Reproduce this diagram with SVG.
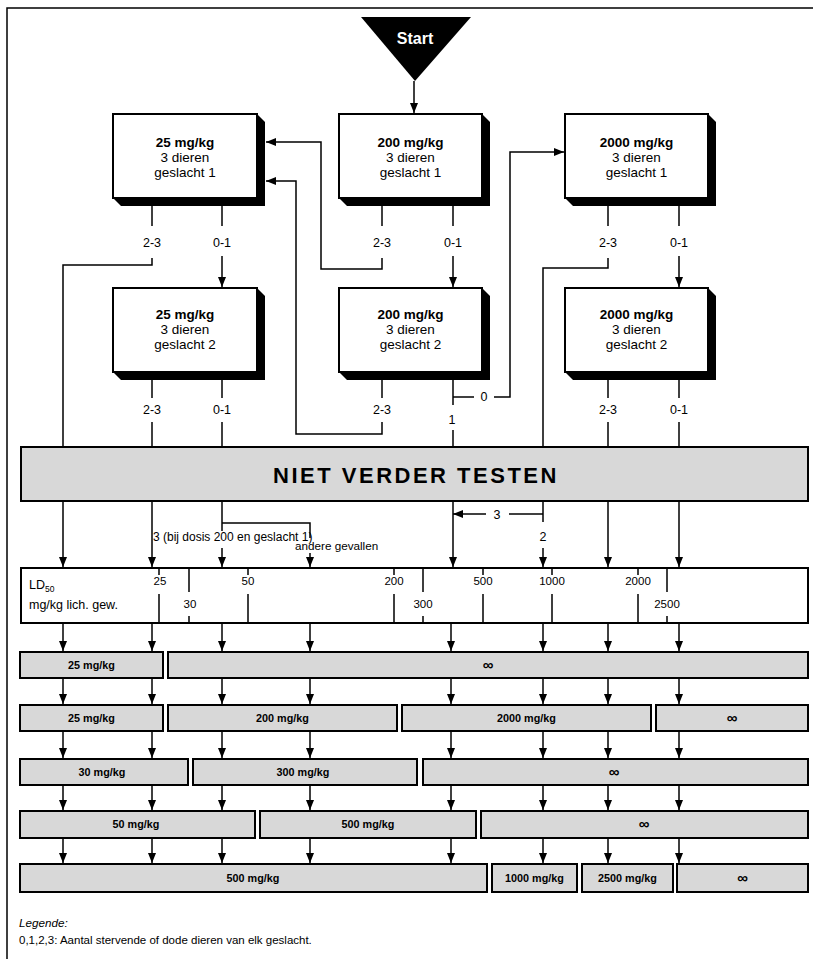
<svg xmlns="http://www.w3.org/2000/svg" width="813" height="959" viewBox="0 0 813 959">
<style>
text{font-family:"Liberation Sans",Arial,sans-serif;fill:#000}
.box{fill:#fff;stroke:#000;stroke-width:2}
.sh{fill:#000}
.bar{fill:#d8d8d8;stroke:#000;stroke-width:2}
.ln{stroke:#000;stroke-width:1.5;fill:none}
.ar{stroke:#000;stroke-width:1.5;fill:none;marker-end:url(#ah)}
.t1{font-size:13.5px;font-weight:bold;text-anchor:middle}
.t2{font-size:13.5px;text-anchor:middle}
.lb{font-size:12.5px;text-anchor:middle}
.tk{font-size:11.5px;text-anchor:middle}
.rb{font-size:10.8px;font-weight:bold;text-anchor:middle}
.inf{font-size:15px;font-weight:bold;text-anchor:middle}
</style>
<defs>
<marker id="ah" viewBox="0 0 10 8" refX="10" refY="4" markerWidth="10" markerHeight="8" orient="auto" markerUnits="userSpaceOnUse">
<path d="M0,0 L10,4 L0,8 z" fill="#000"/>
</marker>
</defs>

<path class="ln" d="M7,959 V8 H813"/>

<g id="connectors">
<path class="ar" d="M414,81 V113"/>
<path class="ln" d="M152,206 V226"/>
<text class="lb" x="152" y="247">2-3</text>
<path class="ar" d="M152,258 V265 H63 V567"/>
<path class="ln" d="M222,206 V226"/>
<text class="lb" x="222" y="247">0-1</text>
<path class="ar" d="M222,256 V287"/>
<path class="ln" d="M382,206 V226"/>
<text class="lb" x="382" y="247">2-3</text>
<path class="ar" d="M382,258 V269 H321 V142 H266"/>
<path class="ln" d="M453,206 V226"/>
<text class="lb" x="453" y="247">0-1</text>
<path class="ar" d="M453,256 V287"/>
<path class="ln" d="M608,206 V226"/>
<text class="lb" x="608" y="247">2-3</text>
<path class="ln" d="M608,258 V268 H543 V522"/>
<path class="ln" d="M679,206 V226"/>
<text class="lb" x="679" y="247">0-1</text>
<path class="ar" d="M679,256 V287"/>
<path class="ln" d="M152,380 V398"/>
<text class="lb" x="152" y="414">2-3</text>
<path class="ar" d="M152,422 V567"/>
<path class="ln" d="M222,380 V398"/>
<text class="lb" x="222" y="414">0-1</text>
<path class="ln" d="M222,422 V531"/>
<path class="ln" d="M222,523 H310 V538"/>
<path class="ar" d="M222,548 V567"/>
<path class="ar" d="M310,553 V567"/>
<text x="153" y="541" font-size="12">3 (bij dosis 200 en geslacht 1)</text>
<text x="295" y="550" font-size="11.7">andere gevallen</text>
<path class="ln" d="M382,380 V398"/>
<text class="lb" x="382" y="414">2-3</text>
<path class="ar" d="M382,422 V434 H296 V181 H266"/>
<path class="ln" d="M453,380 V405"/>
<path class="ln" d="M453,397 H474"/>
<text class="lb" x="484" y="401">0</text>
<path class="ar" d="M494,397 H510 V152 H564"/>
<text class="lb" x="452" y="424">1</text>
<path class="ar" d="M453,430 V567"/>
<path class="ln" d="M608,380 V398"/>
<text class="lb" x="608" y="414">2-3</text>
<path class="ar" d="M608,422 V567"/>
<path class="ln" d="M679,380 V398"/>
<text class="lb" x="679" y="414">0-1</text>
<path class="ar" d="M679,422 V567"/>
<path class="ln" d="M543,514 H509"/>
<text class="lb" x="497" y="519">3</text>
<path class="ar" d="M486,514 H453"/>
<text class="lb" x="543" y="541">2</text>
<path class="ar" d="M543,548 V567"/>
<g id="col-arrows">
<path class="ar" d="M63,624 V651"/><path class="ar" d="M152,624 V651"/><path class="ar" d="M222,624 V651"/><path class="ar" d="M310,624 V651"/><path class="ar" d="M451,624 V651"/><path class="ar" d="M543,624 V651"/><path class="ar" d="M608,624 V651"/><path class="ar" d="M679,624 V651"/>
<path class="ar" d="M63,679 V704"/><path class="ar" d="M152,679 V704"/><path class="ar" d="M222,679 V704"/><path class="ar" d="M310,679 V704"/><path class="ar" d="M451,679 V704"/><path class="ar" d="M543,679 V704"/><path class="ar" d="M608,679 V704"/><path class="ar" d="M679,679 V704"/>
<path class="ar" d="M63,732 V758"/><path class="ar" d="M152,732 V758"/><path class="ar" d="M222,732 V758"/><path class="ar" d="M310,732 V758"/><path class="ar" d="M451,732 V758"/><path class="ar" d="M543,732 V758"/><path class="ar" d="M608,732 V758"/><path class="ar" d="M679,732 V758"/>
<path class="ar" d="M63,786 V810"/><path class="ar" d="M152,786 V810"/><path class="ar" d="M222,786 V810"/><path class="ar" d="M310,786 V810"/><path class="ar" d="M451,786 V810"/><path class="ar" d="M543,786 V810"/><path class="ar" d="M608,786 V810"/><path class="ar" d="M679,786 V810"/>
<path class="ar" d="M63,839 V863"/><path class="ar" d="M152,839 V863"/><path class="ar" d="M222,839 V863"/><path class="ar" d="M310,839 V863"/><path class="ar" d="M451,839 V863"/><path class="ar" d="M543,839 V863"/><path class="ar" d="M608,839 V863"/><path class="ar" d="M679,839 V863"/>
</g>
</g>

<g id="start">
<polygon points="361,17 471,17 415,81" fill="#000"/>
<text x="415" y="44" font-size="16" font-weight="bold" text-anchor="middle" style="fill:#fff">Start</text>
</g>

<g id="box-25-1">
<polygon class="sh" points="257,114 265,122 265,206 121,206 113,198"/>
<rect class="box" x="113" y="114" width="144" height="84"/>
<text class="t1" x="185" y="147">25 mg/kg</text>
<text class="t2" x="185" y="162">3 dieren</text>
<text class="t2" x="185" y="177">geslacht 1</text>
</g>
<g id="box-200-1">
<polygon class="sh" points="482,114 490,122 490,206 347,206 339,198"/>
<rect class="box" x="339" y="114" width="143" height="84"/>
<text class="t1" x="410.5" y="147">200 mg/kg</text>
<text class="t2" x="410.5" y="162">3 dieren</text>
<text class="t2" x="410.5" y="177">geslacht 1</text>
</g>
<g id="box-2000-1">
<polygon class="sh" points="708,114 716,122 716,206 573,206 565,198"/>
<rect class="box" x="565" y="114" width="143" height="84"/>
<text class="t1" x="636.5" y="147">2000 mg/kg</text>
<text class="t2" x="636.5" y="162">3 dieren</text>
<text class="t2" x="636.5" y="177">geslacht 1</text>
</g>
<g id="box-25-2">
<polygon class="sh" points="257,288 265,296 265,380 121,380 113,372"/>
<rect class="box" x="113" y="288" width="144" height="84"/>
<text class="t1" x="185" y="319">25 mg/kg</text>
<text class="t2" x="185" y="334">3 dieren</text>
<text class="t2" x="185" y="349">geslacht 2</text>
</g>
<g id="box-200-2">
<polygon class="sh" points="482,288 490,296 490,380 347,380 339,372"/>
<rect class="box" x="339" y="288" width="143" height="84"/>
<text class="t1" x="410.5" y="319">200 mg/kg</text>
<text class="t2" x="410.5" y="334">3 dieren</text>
<text class="t2" x="410.5" y="349">geslacht 2</text>
</g>
<g id="box-2000-2">
<polygon class="sh" points="708,288 716,296 716,380 573,380 565,372"/>
<rect class="box" x="565" y="288" width="143" height="84"/>
<text class="t1" x="636.5" y="319">2000 mg/kg</text>
<text class="t2" x="636.5" y="334">3 dieren</text>
<text class="t2" x="636.5" y="349">geslacht 2</text>
</g>

<g id="niet-verder-testen">
<rect class="bar" x="21" y="447" width="787" height="54"/>
<text x="416" y="483" font-size="22" font-weight="bold" letter-spacing="2.5" text-anchor="middle">NIET VERDER TESTEN</text>
</g>

<g id="ld50-scale">
<rect class="box" x="21" y="568" width="787" height="55"/>
<text x="29" y="589" font-size="12.5">LD<tspan font-size="8.5" dy="3">50</tspan></text>
<text x="29" y="609" font-size="12.5">mg/kg lich. gew.</text>
<path class="ln" d="M159,568 V575 M159,594 V623 M248,568 V575 M248,594 V623 M394,568 V575 M394,594 V623 M483,568 V575 M483,594 V623 M552,568 V575 M552,594 V623 M638,568 V575 M638,594 V623"/>
<path class="ln" d="M189,568 V592 M189,616 V623 M423,568 V592 M423,616 V623 M667,568 V592 M667,616 V623"/>
<text class="tk" x="160" y="585">25</text>
<text class="tk" x="248" y="585">50</text>
<text class="tk" x="394" y="585">200</text>
<text class="tk" x="483" y="585">500</text>
<text class="tk" x="552" y="585">1000</text>
<text class="tk" x="638" y="585">2000</text>
<text class="tk" x="190" y="608">30</text>
<text class="tk" x="423" y="608">300</text>
<text class="tk" x="667" y="608">2500</text>
</g>

<g id="row-a">
<rect class="bar" x="20" y="652" width="143" height="26"/>
<text class="rb" x="91.5" y="669">25 mg/kg</text>
<rect class="bar" x="168" y="652" width="640" height="26"/>
<text class="inf" x="488" y="670">∞</text>
</g>
<g id="row-b">
<rect class="bar" x="20" y="705" width="143" height="26"/>
<text class="rb" x="91.5" y="722">25 mg/kg</text>
<rect class="bar" x="168" y="705" width="229" height="26"/>
<text class="rb" x="282.5" y="722">200 mg/kg</text>
<rect class="bar" x="402" y="705" width="249" height="26"/>
<text class="rb" x="526.5" y="722">2000 mg/kg</text>
<rect class="bar" x="656" y="705" width="152" height="26"/>
<text class="inf" x="732" y="723">∞</text>
</g>
<g id="row-c">
<rect class="bar" x="20" y="759" width="168" height="26"/>
<text class="rb" x="102" y="776">30 mg/kg</text>
<rect class="bar" x="193" y="759" width="224" height="26"/>
<text class="rb" x="303" y="776">300 mg/kg</text>
<rect class="bar" x="423" y="759" width="385" height="26"/>
<text class="inf" x="614" y="777">∞</text>
</g>
<g id="row-d">
<rect class="bar" x="20" y="811" width="235" height="27"/>
<text class="rb" x="136" y="828">50 mg/kg</text>
<rect class="bar" x="260" y="811" width="216" height="27"/>
<text class="rb" x="368" y="828">500 mg/kg</text>
<rect class="bar" x="481" y="811" width="327" height="27"/>
<text class="inf" x="644" y="829">∞</text>
</g>
<g id="row-e">
<rect class="bar" x="20" y="864" width="467" height="28"/>
<text class="rb" x="253" y="882">500 mg/kg</text>
<rect class="bar" x="492" y="864" width="85" height="28"/>
<text class="rb" x="534.5" y="882">1000 mg/kg</text>
<rect class="bar" x="582" y="864" width="91" height="28"/>
<text class="rb" x="627.5" y="882">2500 mg/kg</text>
<rect class="bar" x="677" y="864" width="131" height="28"/>
<text class="inf" x="742.5" y="883">∞</text>
</g>

<g id="legend">
<text x="19" y="927" font-size="11.7" font-style="italic">Legende:</text>
<text x="19" y="944" font-size="11.5">0,1,2,3: Aantal stervende of dode dieren van elk geslacht.</text>
</g>
</svg>
